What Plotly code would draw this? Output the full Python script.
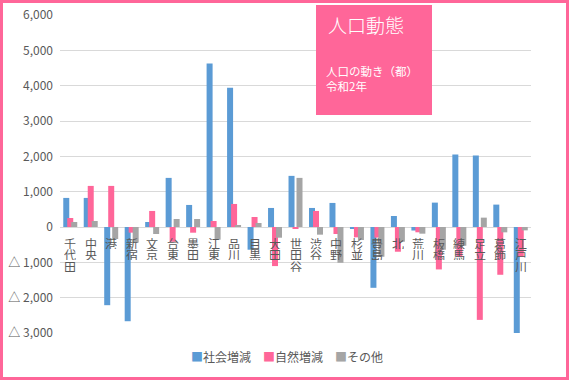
import plotly.graph_objects as go

wards = ["千代田", "中央", "港", "新宿", "文京", "台東", "墨田", "江東", "品川", "目黒", "大田", "世田谷",
         "渋谷", "中野", "杉並", "豊島", "北", "荒川", "板橋", "練馬", "足立", "葛飾", "江戸川"]
social = [823, 823, -2213, -2667, 142, 1390, 624, 4624, 3943, -643, 539, 1447,
          539, 681, -47, -1721, 312, -100, 690, 2052, 2024, 634, -3026]
natural = [255, 1163, 1163, -160, 454, -417, -161, 170, 652, 284, -1106, -57,
           454, -199, -293, -300, -700, -150, -1201, -840, -2629, -1352, -842]
other = [142, 170, -340, -444, -199, 227, 227, -359, 57, 113, -303, 1390,
         -217, -1012, -369, -842, -416, -189, -643, -530, 265, -151, -95]
series_names = ["社会増減", "自然増減", "その他"]
tick_vals = [-3000, -2000, -1000, 0, 1000, 2000, 3000, 4000, 5000, 6000]
tick_text = ["△ 3,000", "△ 2,000", "△ 1,000", "0", "1,000", "2,000", "3,000", "4,000", "5,000", "6,000"]
title_text = "人口動態"
subtitle_lines = ["人口の動き（都）", "令和2年"]

BLUE = "#5B9BD5"
PINK = "#FF6699"
GRAY = "#A5A5A5"
TXT = "#595959"
FONT = "Noto Sans CJK JP"

W, H = 570, 381
L, R, T, B = 60, 39, 15, 48
pw, ph = W - L - R, H - T - B


def px(x):
    return (x - L) / pw


def py(y):
    return (H - B - y) / ph


fig = go.Figure()
xs = list(range(len(wards)))
for vals, color, name, off in [(social, BLUE, series_names[0], -0.341),
                               (natural, PINK, series_names[1], -0.146),
                               (other, GRAY, series_names[2], 0.049)]:
    fig.add_trace(go.Bar(x=xs, y=vals, name=name, marker_color=color, marker_line_width=0,
                         width=0.293, offset=off, showlegend=False))

annotations = []
# vertical category labels at the zero line
for i, w in enumerate(wards):
    for j, ch in enumerate(w):
        annotations.append(dict(x=i, y=0, xref="x", yref="y", text=ch, showarrow=False,
                                yanchor="top", xanchor="center", yshift=-10 - 11.3 * j,
                                height=11, borderpad=0, valign="middle",
                                font=dict(family=FONT, size=12, color=TXT)))

# title box texts
annotations.append(dict(x=px(326), y=py(24), xref="paper", yref="paper", text=title_text,
                        showarrow=False, xanchor="left", yanchor="middle",
                        font=dict(family=FONT, size=19, color="white", weight=300)))
annotations.append(dict(x=px(324), y=py(79), xref="paper", yref="paper",
                        text="<br>".join(subtitle_lines), showarrow=False, xanchor="left",
                        yanchor="middle", align="left",
                        font=dict(family=FONT, size=11.5, color="white")))

# legend
legend_html = "　".join(
    f'<span style="color:{c}">■</span>{n}' for c, n in zip([BLUE, PINK, GRAY], series_names))
annotations.append(dict(x=px(287), y=py(356), xref="paper", yref="paper", text=legend_html,
                        showarrow=False, xanchor="center", yanchor="middle",
                        font=dict(family=FONT, size=12, color=TXT)))

shapes = [
    dict(type="rect", xref="paper", yref="paper", x0=px(316), x1=px(432), y0=py(115), y1=py(5),
         fillcolor=PINK, line=dict(width=0), layer="above"),
    dict(type="rect", xref="paper", yref="paper", x0=px(1.5), x1=px(567.5), y0=py(378.5), y1=py(1.5),
         line=dict(color=PINK, width=3), fillcolor="rgba(0,0,0,0)", layer="above"),
]

fig.update_layout(
    width=W, height=H, margin=dict(l=L, r=R, t=T, b=B, autoexpand=False),
    paper_bgcolor="white", plot_bgcolor="white",
    barmode="overlay",
    font=dict(family=FONT, size=12, color=TXT),
    xaxis=dict(range=[-0.5, len(wards) - 0.5], showticklabels=False, showgrid=False,
               zeroline=False, showline=False, ticks="", automargin=False),
    yaxis=dict(range=[-3000, 6000], tickvals=tick_vals, ticktext=tick_text,
               showgrid=True, gridcolor="#D9D9D9", gridwidth=1,
               zeroline=True, zerolinecolor="#D9D9D9", zerolinewidth=1, automargin=False,
               tickfont=dict(family=FONT, size=12, color=TXT), ticklabelstandoff=6),
    annotations=annotations, shapes=shapes,
)

fig.write_html("out.html", config={"displayModeBar": False},
               post_script="document.body.style.margin='0';document.body.style.overflow='hidden';")
